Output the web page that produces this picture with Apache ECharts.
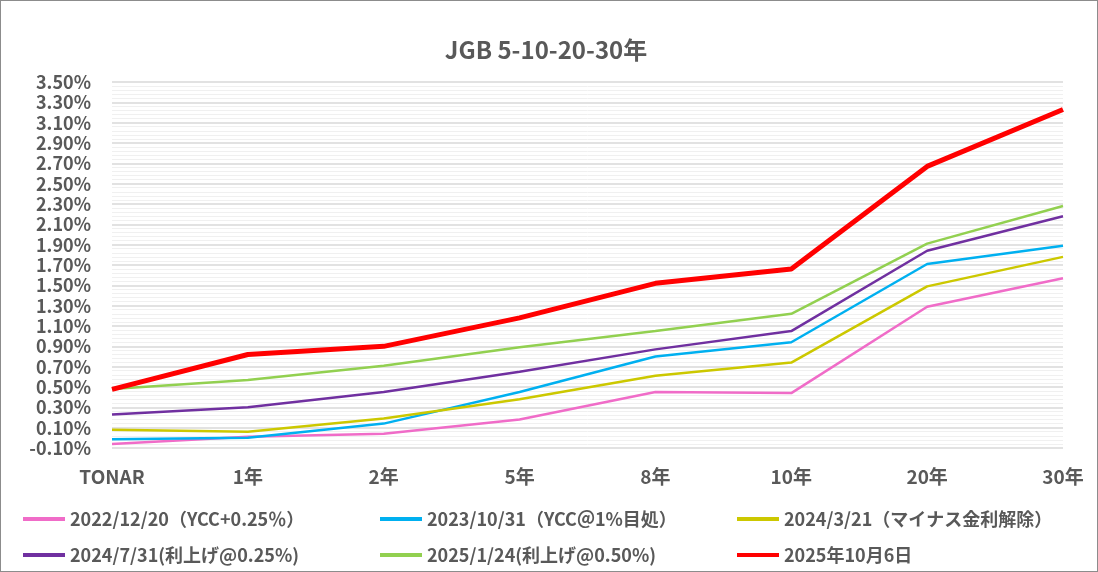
<!DOCTYPE html>
<html lang="ja">
<head>
    <meta charset="UTF-8">
    <title>JGB 5-10-20-30年</title>
    <script src="https://cdn.jsdelivr.net/npm/echarts@6.0.0/dist/echarts.min.js"></script>
    <style>
        html, body { margin: 0; padding: 0; background: #fff; }
        #chart { width: 1096px; height: 570px; border: 1px solid #8c8c8c; }
    </style>
</head>
<body>
    <div id="chart"></div>

    <script>
        // 年限（カテゴリ）
        var tenors = ['TONAR', '1年', '2年', '5年', '8年', '10年', '20年', '30年'];

        // 各日付の利回り (%)
        var y20221220 = [-0.06, 0.01, 0.04, 0.18, 0.45, 0.44, 1.29, 1.57];
        var y20231031 = [-0.015, 0.00, 0.14, 0.45, 0.80, 0.94, 1.71, 1.89];
        var y20240321 = [0.08, 0.06, 0.19, 0.38, 0.61, 0.74, 1.49, 1.78];
        var y20240731 = [0.23, 0.30, 0.45, 0.65, 0.87, 1.05, 1.84, 2.18];
        var y20250124 = [0.48, 0.57, 0.71, 0.89, 1.05, 1.22, 1.91, 2.28];
        var y20251006 = [0.477, 0.82, 0.90, 1.18, 1.52, 1.66, 2.67, 3.23];

        var names = [
            '2022/12/20（YCC+0.25％）',
            '2023/10/31（YCC＠1%目処）',
            '2024/3/21（マイナス金利解除）',
            '2024/7/31(利上げ@0.25%)',
            '2025/1/24(利上げ@0.50%)',
            '2025年10月6日'
        ];
        var colors = ['#F06CC8', '#00B0F0', '#CCC800', '#7030A0', '#92D050', '#FF0000'];
        var values = [y20221220, y20231031, y20240321, y20240731, y20250124, y20251006];

        var font = '"Noto Sans CJK JP", "Noto Sans", sans-serif';
        var chart = echarts.init(document.getElementById('chart'));

        var series = names.map(function (n, i) {
            var last = i === names.length - 1;
            return {
                name: n,
                type: 'line',
                data: values[i],
                symbol: 'none',
                color: colors[i],
                lineStyle: { width: last ? 5 : 2.5, color: colors[i] },
                z: 2 + i
            };
        });

        chart.setOption({
            animation: false,
            title: {
                text: 'JGB 5-10-20-30年',
                left: 540,
                top: 32,
                textAlign: 'center',
                textStyle: { fontFamily: font, fontSize: 24, fontWeight: 'bold', color: '#595959' }
            },
            grid: { left: 111, right: 34, top: 81, bottom: 123 },
            legend: {
                left: 17,
                top: 500,
                width: 1075,
                itemGap: 10,
                itemWidth: 42,
                itemHeight: 4,
                data: names.map(function (n, i) {
                    return { name: n, icon: 'rect', itemStyle: { color: colors[i] } };
                }),
                textStyle: {
                    fontFamily: font, fontSize: 18, fontWeight: 'bold', color: '#595959',
                    width: 300, height: 26, lineHeight: 26
                }
            },
            xAxis: {
                type: 'category',
                data: tenors,
                boundaryGap: false,
                axisLine: { show: false },
                axisTick: { show: false },
                axisLabel: {
                    margin: 19,
                    fontFamily: font, fontSize: 19, fontWeight: 'bold', color: '#595959'
                }
            },
            yAxis: {
                type: 'value',
                min: -0.1,
                max: 3.5,
                interval: 0.2,
                axisLine: { show: false },
                axisTick: { show: false },
                axisLabel: {
                    margin: 21,
                    fontFamily: font, fontSize: 18, fontWeight: 'bold', color: '#595959',
                    formatter: function (v) { return v.toFixed(2) + '%'; }
                },
                splitLine: { lineStyle: { color: '#D9D9D9', width: 1.5 } },
                minorTick: { show: false, splitNumber: 5 },
                minorSplitLine: { show: true, lineStyle: { color: '#F0F0F0', width: 1 } }
            },
            series: series
        });
    </script>
</body>
</html>
